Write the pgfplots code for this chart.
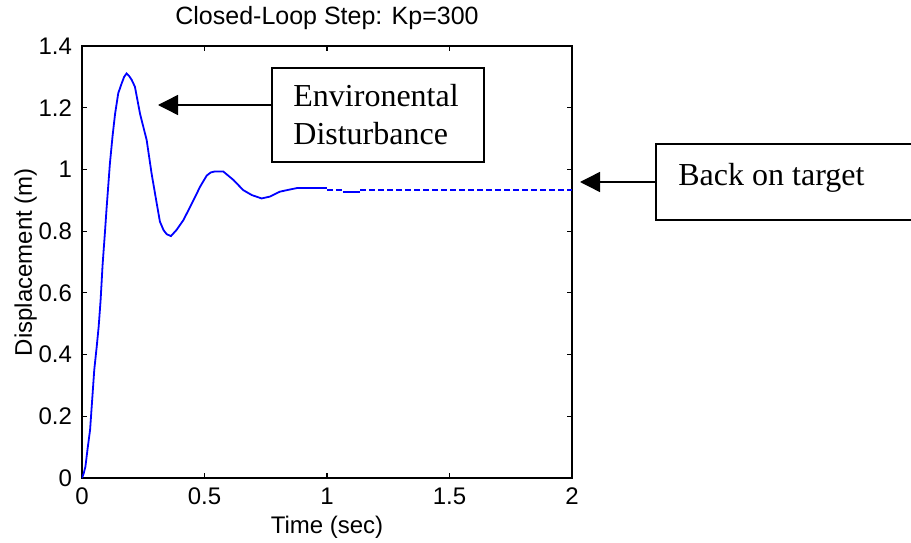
\documentclass[border=0pt]{standalone}
\usepackage{fontspec}
\setmainfont{Liberation Sans}
\newfontfamily\tnr{Liberation Serif}
\usepackage{pgfplots}
\pgfplotsset{compat=1.18}
\usetikzlibrary{arrows.meta}

\begin{document}
\begin{tikzpicture}
\useasboundingbox (0,0) rectangle (455.5pt,271pt);
\begin{axis}[
  at={(41pt,32pt)}, anchor=south west,
  scale only axis, width=245pt, height=216pt,
  xmin=0, xmax=2, ymin=0, ymax=1.4,
  xtick={0,0.5,1,1.5,2}, ytick={0,0.2,0.4,0.6,0.8,1,1.2,1.4},
  tick align=inside, major tick length=2.5pt,
  xtick pos=both, ytick pos=both,
  axis line style={line width=0.6pt}, every tick/.style={black, line width=0.6pt},
  /pgf/number format/assume math mode=true,
  tick label style={font=\fontsize{12}{14}\selectfont},
  xticklabel style={yshift=-1.5pt}, yticklabel style={xshift=-1.5pt},
  label style={font=\fontsize{12}{14}\selectfont},
  title style={font=\fontsize{12.5}{14}\selectfont, at={(0.5,1)}, yshift=-1.5pt},
  title={Closed-Loop Step: Kp=300},
  xlabel={Time (sec)}, ylabel={Displacement (m)},
  xlabel style={yshift=1.5pt}, ylabel style={yshift=-6pt},
]
\addplot[blue, line width=0.9pt] coordinates {
(0,0) (0.007,0.015) (0.014,0.037) (0.023,0.096) (0.033,0.156) (0.041,0.247)
(0.050,0.350) (0.060,0.425) (0.068,0.490) (0.076,0.577) (0.084,0.690)
(0.094,0.800) (0.100,0.870) (0.114,1.020) (0.125,1.110) (0.135,1.180)
(0.148,1.247) (0.162,1.279) (0.172,1.300) (0.182,1.311) (0.192,1.303)
(0.203,1.290) (0.216,1.268)
(0.237,1.180) (0.264,1.095) (0.284,0.987) (0.305,0.890) (0.318,0.831)
(0.333,0.803) (0.346,0.790) (0.363,0.784) (0.386,0.804) (0.414,0.836) (0.455,0.900)
(0.482,0.944) (0.509,0.980) (0.525,0.990) (0.540,0.993) (0.577,0.993) (0.618,0.966)
(0.658,0.933) (0.693,0.917) (0.733,0.906) (0.767,0.912) (0.808,0.928)
(0.849,0.935) (0.880,0.940) (0.924,0.940) (0.999,0.940)
};
\addplot[blue, line width=0.9pt, dash pattern=on 3pt off 1.5pt] coordinates {
(0.999,0.934) (1.066,0.934)
};
\addplot[blue, line width=0.9pt] coordinates {
(1.066,0.926) (1.135,0.926)
};
\addplot[blue, line width=0.9pt, dash pattern=on 3pt off 1.5pt] coordinates {
(1.135,0.933) (2,0.933)
};
\end{axis}

% annotation boxes
\draw[line width=0.7pt] (136pt,190pt) rectangle (242pt,237pt);
\draw[line width=0.7pt, -{Triangle[length=10pt,width=10pt]}] (136pt,218.5pt) -- (79pt,218.5pt);
\node[anchor=base west, inner sep=0pt, font=\tnr\fontsize{16}{19}\selectfont] at (146.5pt,217.7pt) {Environental};
\node[anchor=base west, inner sep=0pt, font=\tnr\fontsize{16}{19}\selectfont] at (146.5pt,198.5pt) {Disturbance};

\draw[line width=0.7pt] (460pt,199pt) -- (328pt,199pt) -- (328pt,161pt) -- (460pt,161pt);
\draw[line width=0.7pt, -{Triangle[length=10pt,width=10pt]}] (328pt,180pt) -- (290pt,180pt);
\node[anchor=base west, inner sep=0pt, font=\tnr\fontsize{16}{19}\selectfont] at (339pt,178.5pt) {Back on target};
\end{tikzpicture}
\end{document}
